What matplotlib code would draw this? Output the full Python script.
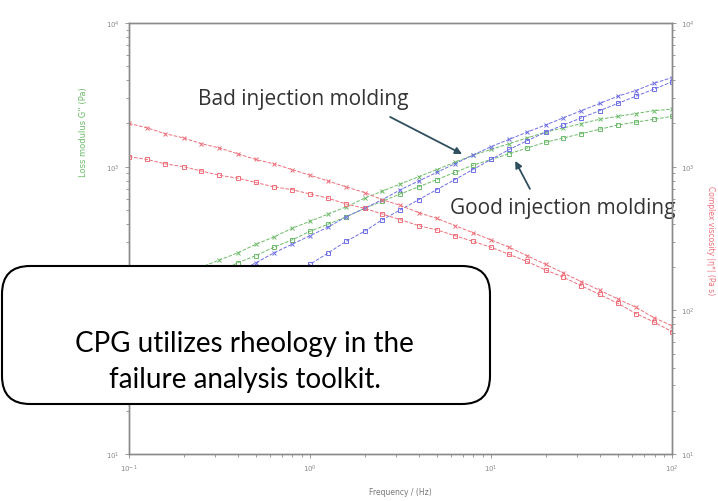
import numpy as np
import matplotlib.pyplot as plt
from matplotlib.patches import FancyBboxPatch
from matplotlib.transforms import IdentityTransform

# Frecuencias (Hz), 10 puntos por década
freq = [0.1, 0.126, 0.158, 0.2, 0.251, 0.316, 0.398, 0.501, 0.631, 0.794,
        1.0, 1.26, 1.58, 2.0, 2.51, 3.16, 3.98, 5.01, 6.31, 7.94,
        10.0, 12.6, 15.8, 20.0, 25.1, 31.6, 39.8, 50.1, 63.1, 79.4, 100.0]

# Viscosidad compleja (Pa s) - eje derecho
eta_bad = [2000, 1862, 1698, 1585, 1445, 1349, 1230, 1122, 1047, 955,
           871, 794, 724, 661, 589, 537, 479, 437, 389, 347,
           309, 275, 240, 209, 182, 158, 138, 120, 105, 89, 78]
eta_good = [1175, 1122, 1047, 1000, 933, 871, 832, 776, 724, 692,
            646, 603, 550, 513, 468, 427, 389, 363, 331, 302,
            275, 245, 219, 191, 170, 148, 129, 112, 95, 83, 71]

# Módulo de pérdida G'' (Pa)
gpp_bad = [120, 135, 155, 174, 200, 224, 251, 288, 324, 372,
           417, 468, 525, 603, 676, 759, 851, 955, 1072, 1202,
           1318, 1445, 1585, 1738, 1862, 1995, 2138, 2239, 2344, 2455, 2512]
gpp_good = [100, 112, 129, 145, 166, 186, 214, 240, 275, 309,
            355, 398, 447, 513, 575, 646, 724, 813, 912, 1023,
            1122, 1230, 1349, 1479, 1585, 1698, 1820, 1950, 2042, 2138, 2239]

# Módulo de almacenamiento G' (Pa)
gp_bad = [72, 85, 100, 117, 135, 158, 186, 214, 251, 288,
          331, 380, 447, 513, 589, 692, 794, 912, 1047, 1202,
          1380, 1549, 1738, 1950, 2188, 2455, 2754, 3090, 3388, 3802, 4169]
gp_good = [33, 40, 48, 58, 69, 83, 100, 120, 145, 174,
           209, 251, 302, 355, 427, 501, 589, 692, 813, 955,
           1122, 1318, 1514, 1738, 1950, 2188, 2455, 2754, 3090, 3467, 3890]

red = '#ee6f7a'
green = '#6dbb6a'
blue = '#6f6fe6'
grey = '#8a8a8a'

fig = plt.figure(figsize=(7.18, 5.02), dpi=100)
ax = fig.add_axes([0.1797, 0.0936, 0.7563, 0.8586])
ax2 = ax.twinx()

for a in (ax, ax2):
    a.set_xscale('log')
    a.set_yscale('log')
    a.set_xlim(0.1, 100)
    a.set_ylim(10, 1e4)
    for s in a.spines.values():
        s.set_color(grey)
        s.set_linewidth(1.0)
    a.tick_params(which='both', colors=grey, labelsize=5, length=2, width=0.6)
    a.tick_params(which='major', length=3)

# curvas G' y G''
ax.plot(freq, gpp_bad, color=green, ls='--', lw=0.7, marker='x', ms=2.8, mew=0.7)
ax.plot(freq, gpp_good, color=green, ls='--', lw=0.7, marker='s', ms=3.2,
        mfc='none', mew=0.7)
ax.plot(freq, gp_bad, color=blue, ls='--', lw=0.7, marker='x', ms=2.8, mew=0.7)
ax.plot(freq, gp_good, color=blue, ls='--', lw=0.7, marker='s', ms=3.2,
        mfc='none', mew=0.7)

# viscosidad en el eje derecho
ax2.plot(freq, eta_bad, color=red, ls='--', lw=0.7, marker='x', ms=2.8, mew=0.7)
ax2.plot(freq, eta_good, color=red, ls='--', lw=0.7, marker='s', ms=3.2,
         mfc='none', mew=0.7)

ax.set_xlabel('Frequency / (Hz)', fontsize=5.5, color='#777777', labelpad=9)
fig.text(0.116, 0.737, "Loss modulus G'' (Pa)", rotation=90, fontsize=6,
         color=green, ha='center', va='center')
fig.text(0.990, 0.52, 'Complex viscosity |η*| (Pa s)', rotation=270,
         fontsize=5.5, color=red, ha='center', va='center')

# anotaciones
ax.text(0.914, 2960, 'Bad injection molding', fontsize=15, color='#333333',
        family='Open Sans', ha='center', va='center')
ax.text(25.0, 516, 'Good injection molding', fontsize=15, color='#333333',
        family='Open Sans', ha='center', va='center')
ax.annotate('', xy=(6.92, 1225), xytext=(2.77, 2218),
            arrowprops=dict(arrowstyle='-|>', color='#2f4f5f', lw=1.3,
                            shrinkA=0, shrinkB=0))
ax.annotate('', xy=(13.6, 1097), xytext=(16.4, 700),
            arrowprops=dict(arrowstyle='-|>', color='#2f4f5f', lw=1.3,
                            shrinkA=0, shrinkB=0))

# cuadro de texto redondeado (en píxeles)
box = FancyBboxPatch((2, 97), 488, 138,
                     boxstyle='round,pad=0,rounding_size=28',
                     transform=IdentityTransform(), facecolor='white',
                     edgecolor='black', lw=1.5, zorder=10)
fig.patches.append(box)
fig.text(0.341, 0.279, 'CPG utilizes rheology in the\nfailure analysis toolkit.',
         fontsize=20, family='Lato', ha='center', va='center',
         linespacing=1.5, zorder=11)

fig.savefig('out.png', dpi=100)
